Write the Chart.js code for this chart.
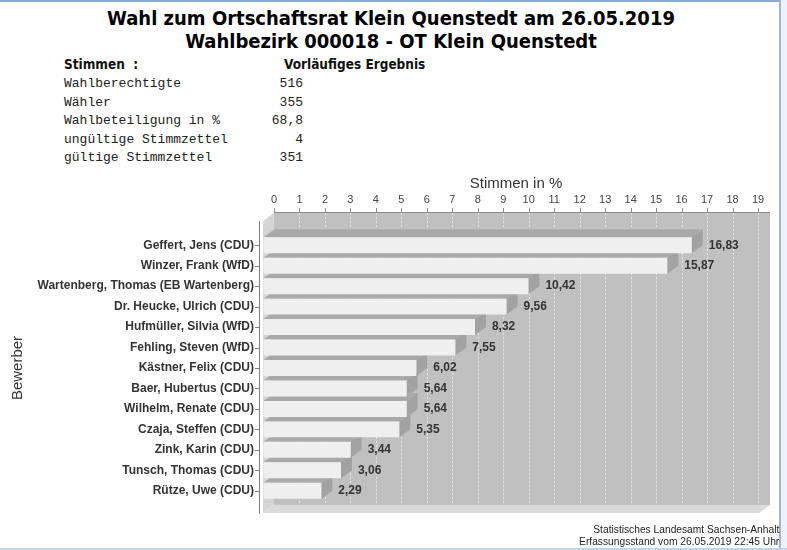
<!DOCTYPE html>
<html>
<head>
<meta charset="utf-8">
<script src="https://cdn.jsdelivr.net/npm/chart.js@4.4.1/dist/chart.umd.min.js"></script>
<style>
  body { margin: 0; width: 787px; height: 550px; background: #fff; position: relative; overflow: hidden; font-family: 'Liberation Sans', Arial, sans-serif; }
  .title { position: absolute; left: 0; width: 782px; text-align: center; font: bold 20px/24px 'DejaVu Sans Condensed', 'DejaVu Sans', sans-serif; color: #000; white-space: nowrap; }
  .head { position: absolute; top: 56px; font: bold 13.5px/16px 'DejaVu Sans Condensed', 'DejaVu Sans', sans-serif; color: #111; white-space: pre; }
  .rows { position: absolute; top: 75px; left: 64px; font: 13px/18.5px 'Liberation Mono', 'Courier New', monospace; color: #222; white-space: pre; }
  .vals { position: absolute; top: 75px; left: 230px; width: 73px; text-align: right; font: 13px/18.5px 'Liberation Mono', 'Courier New', monospace; color: #222; white-space: pre; }
  .foot { position: absolute; right: 8px; top: 523px; text-align: right; font: 11px/12px 'Liberation Sans Narrow', 'Liberation Sans', sans-serif; color: #222; transform: scaleX(0.93); transform-origin: right top; }
  #wrap { position: absolute; left: 0; top: 170px; width: 787px; height: 360px; }
  .frame { position: absolute; }
</style>
</head>
<body>
<div class="frame" style="left:0;top:0;width:787px;height:2px;background:#8eaad6"></div>
<div class="frame" style="left:779px;top:0;width:2px;height:550px;background:#9bb4dc"></div>
<div class="frame" style="left:781px;top:0;width:6px;height:550px;background:#eef3fa"></div>
<div class="frame" style="left:0;top:548px;width:787px;height:2px;background:#c3d3ea"></div>

<div class="title" style="top:6px">Wahl zum Ortschaftsrat Klein Quenstedt am 26.05.2019</div>
<div class="title" style="top:29px">Wahlbezirk 000018 - OT Klein Quenstedt</div>
<div class="head" style="left:64px">Stimmen  :</div>
<div class="head" style="left:284px">Vorläufiges Ergebnis</div>
<div class="rows" id="rows"></div>
<div class="vals" id="vals"></div>
<div id="wrap"><canvas id="chart"></canvas></div>
<div class="foot">Statistisches Landesamt Sachsen-Anhalt<br>Erfassungsstand vom 26.05.2019 22:45 Uhr</div>

<script>
// summary block
const statLabels = ['Wahlberechtigte', 'Wähler', 'Wahlbeteiligung in %', 'ungültige Stimmzettel', 'gültige Stimmzettel'];
const statValues = ['516', '355', '68,8', '4', '351'];

// chart data
const candidates = [
    'Geffert, Jens (CDU)',
    'Winzer, Frank (WfD)',
    'Wartenberg, Thomas (EB Wartenberg)',
    'Dr. Heucke, Ulrich (CDU)',
    'Hufmüller, Silvia (WfD)',
    'Fehling, Steven (WfD)',
    'Kästner, Felix (CDU)',
    'Baer, Hubertus (CDU)',
    'Wilhelm, Renate (CDU)',
    'Czaja, Steffen (CDU)',
    'Zink, Karin (CDU)',
    'Tunsch, Thomas (CDU)',
    'Rütze, Uwe (CDU)'
];
const shares = [16.83, 15.87, 10.42, 9.56, 8.32, 7.55, 6.02, 5.64, 5.64, 5.35, 3.44, 3.06, 2.29];
const axisMin = 0;
const axisMax = 19;

document.getElementById('rows').textContent = statLabels.join('\n');
document.getElementById('vals').textContent = statValues.join('\n');

// fake 3d look
const DX = 11, DY = 8;

function poly(ctx, pts) {
    ctx.beginPath();
    ctx.moveTo(pts[0][0], pts[0][1]);
    for (let i = 1; i < pts.length; i++) ctx.lineTo(pts[i][0], pts[i][1]);
    ctx.closePath();
    ctx.fill();
}

function line(ctx, x1, y1, x2, y2) {
    ctx.beginPath();
    ctx.moveTo(x1, y1);
    ctx.lineTo(x2, y2);
    ctx.stroke();
}

const box3d = {
    id: 'box3d',
    beforeDraw(chart) {
        const { ctx, chartArea: a, scales: { x, y } } = chart;
        const L = a.left, R = a.right + 12, T = a.top - 22, B = a.bottom + 12;
        ctx.save();
        ctx.fillStyle = '#c0c0c0';
        ctx.fillRect(L, T, R - L, B - DY - T);
        ctx.fillStyle = '#d5d5d5';
        poly(ctx, [[L - DX, T + DY], [L, T], [L, B - DY], [L - DX, B]]);
        ctx.fillStyle = '#dadada';
        poly(ctx, [[L - DX, B], [L, B - DY], [R, B - DY], [R - DX, B]]);

        ctx.lineWidth = 1;
        ctx.strokeStyle = '#e4e4e4';
        ctx.setLineDash([2, 2]);
        x.ticks.forEach(t => {
            const px = Math.round(x.getPixelForValue(t.value)) + 0.5;
            if (px > L + 1) line(ctx, px, T, px, B - DY);
        });
        ctx.setLineDash([]);

        ctx.strokeStyle = '#8c8c8c';
        line(ctx, L, T - 0.5, R, T - 0.5);
        x.ticks.forEach(t => {
            const px = Math.round(x.getPixelForValue(t.value)) + 0.5;
            line(ctx, px, T - 5, px, T);
        });
        ctx.strokeStyle = '#808080';
        line(ctx, L - DX - 3.5, T + DY, L - DX - 3.5, B + 1);
        candidates.forEach((c, i) => {
            const py = Math.round(y.getPixelForValue(i)) + 0.5;
            line(ctx, L - DX - 8, py, L - DX - 3, py);
        });
        ctx.restore();
    },
    beforeDatasetsDraw(chart) {
        const ctx = chart.ctx;
        ctx.save();
        chart.getDatasetMeta(0).data.forEach(bar => {
            const p = bar.getProps(['x', 'y', 'base', 'height'], true);
            const top = p.y - p.height / 2, bot = p.y + p.height / 2;
            ctx.fillStyle = '#a9a9a9';
            poly(ctx, [[p.base - DX, top], [p.base, top - DY], [p.x, top - DY], [p.x - DX, top]]);
            ctx.fillStyle = '#a2a2a2';
            poly(ctx, [[p.x - DX, top], [p.x, top - DY], [p.x, bot - DY], [p.x - DX, bot]]);
        });
        ctx.translate(-DX, 0);
    },
    afterDatasetsDraw(chart) {
        const ctx = chart.ctx;
        ctx.restore();
        ctx.save();
        ctx.font = 'bold 12px "Liberation Sans", Arial, sans-serif';
        ctx.fillStyle = '#333';
        ctx.textBaseline = 'middle';
        chart.getDatasetMeta(0).data.forEach((bar, i) => {
            ctx.fillText(shares[i].toFixed(2).replace('.', ','), bar.x + 6, bar.y);
        });
        ctx.restore();
    }
};

new Chart(document.getElementById('chart'), {
    type: 'bar',
    data: {
        labels: candidates,
        datasets: [{
            label: 'Stimmen in %',
            data: shares,
            backgroundColor: '#efefef',
            borderWidth: 0,
            categoryPercentage: 0.78,
            barPercentage: 1
        }]
    },
    options: {
        indexAxis: 'y',
        animation: false,
        responsive: true,
        maintainAspectRatio: false,
        layout: { padding: { left: 0, right: 29, top: 0, bottom: 29 } },
        plugins: {
            legend: { display: false },
            tooltip: { enabled: false }
        },
        scales: {
            x: {
                position: 'top',
                min: axisMin,
                max: axisMax,
                ticks: { stepSize: 1, padding: 4, color: '#444', font: { size: 11, family: 'Liberation Sans' } },
                grid: { display: true, color: 'transparent', drawOnChartArea: false, tickLength: 24, tickColor: 'transparent' },
                border: { display: false },
                title: { display: true, text: 'Stimmen in %', color: '#333', font: { size: 15, family: 'Liberation Sans' }, padding: { top: 5, bottom: 2 } },
                afterFit(scale) { scale.height = 65; }
            },
            y: {
                ticks: { padding: 4, color: '#333', font: { size: 12, weight: 'bold', family: 'Liberation Sans' } },
                grid: { display: true, color: 'transparent', drawOnChartArea: false, tickLength: 16, tickColor: 'transparent' },
                border: { display: false },
                title: { display: true, text: 'Bewerber', color: '#333', font: { size: 15, family: 'Liberation Sans' }, padding: { top: 9, bottom: 0 } },
                afterFit(scale) { scale.width = 274; }
            }
        }
    },
    plugins: [box3d]
});
</script>
</body>
</html>
